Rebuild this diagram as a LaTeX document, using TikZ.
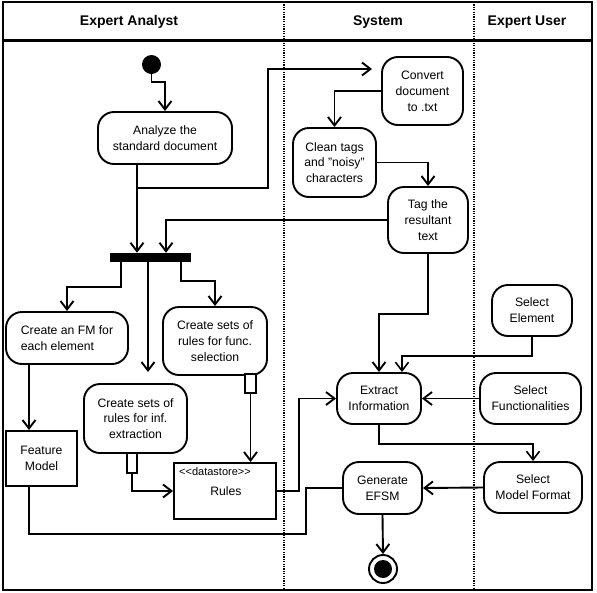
\documentclass[tikz,border=0pt]{standalone}
\usepackage{fontspec}
\setmainfont{Liberation Sans}
\usetikzlibrary{arrows.meta,calc}
\begin{document}
\begin{tikzpicture}[x=1pt,y=-1pt,
  every node/.style={font=\fontsize{12.2}{15.8}\selectfont},
  act/.style={draw, line width=1.9pt, rounded corners=16pt, align=center, inner sep=0pt, fill=white},
  obj/.style={draw, line width=1.9pt, align=center, inner sep=0pt, fill=white},
  pinbox/.style={draw, line width=1.6pt, inner sep=0pt, fill=white},
  arr/.style={line width=1.9pt, -{Straight Barb[length=8.5pt,width=13pt,line width=1.9pt]}},
  thinarr/.style={line width=1.5pt, -{Straight Barb[length=8.5pt,width=13pt,line width=1.6pt]}},
  ln/.style={line width=1.9pt},
  lane/.style={line width=1.6pt, dash pattern=on 1.2pt off 1.2pt},
  head/.style={font=\fontsize{14}{16}\selectfont\bfseries}
]
\useasboundingbox (0,0) rectangle (597,592);
% frame and lanes
\draw[line width=2.2pt] (3,2) rectangle (592,590);
\draw[line width=2.2pt] (3,40.5) -- (592,40.5);
\draw[lane] (284,2) -- (284,590);
\draw[lane] (474,2) -- (474,590);
\node[head] (h1) at (129,22) {Expert Analyst};
\node[head] (h2) at (378,22) {System};
\node[head] (h3) at (527,22) {Expert User};

% nodes
\node[circle, fill=black, inner sep=0pt, minimum size=19pt] (start) at (151.5,64.5) {};
\node[act, minimum width=134pt, minimum height=52pt] (analyze) at (165,138) {Analyze the\\standard document};
\node[act, minimum width=81pt, minimum height=68pt] (convert) at (422.5,91) {Convert\\document\\to .txt};
\node[act, minimum width=83pt, minimum height=69pt] (clean) at (334.5,162.5) {Clean tags\\and "noisy"\\characters};
\node[act, minimum width=80pt, minimum height=66pt] (tag) at (428,220) {Tag the\\resultant\\text};
\node[fill=black, inner sep=0pt, minimum width=81pt, minimum height=9pt] (bar) at (150.5,257.5) {};
\node[act, minimum width=122pt, minimum height=52pt, align=left] (fm) at (67,338) {Create an FM for\\each element};
\node[act, minimum width=104pt, minimum height=68pt] (func) at (215,341) {Create sets of\\rules for func.\\selection};
\node[pinbox, minimum width=11pt, minimum height=19pt] (funcpin) at (250.5,383.5) {};
\node[act, minimum width=103pt, minimum height=69pt] (inf) at (135.5,418.5) {Create sets of\\rules for inf.\\extraction};
\node[pinbox, minimum width=10pt, minimum height=20pt] (infpin) at (132,463) {};
\node[obj, minimum width=102pt, minimum height=56pt] (rules) at (225,491) {};
\node[anchor=west, font=\fontsize{11}{12}\selectfont, inner sep=0pt] (dslabel) at (179,472) {<{}<datastore>{}>};
\node[inner sep=0pt] (ruleslabel) at (226,491) {Rules};
\node[obj, minimum width=71pt, minimum height=55pt] (featmodel) at (41.5,458.5) {Feature\\Model};
\node[act, minimum width=84pt, minimum height=51pt] (extract) at (379,398.5) {Extract\\Information};
\node[act, minimum width=79pt, minimum height=52pt] (generate) at (382.5,488) {Generate\\EFSM};
\node[circle, draw, line width=1.9pt, fill=white, inner sep=0pt, minimum size=28pt] (end) at (383,569) {};
\node[circle, fill=black, inner sep=0pt, minimum size=18pt] (endin) at (383,569) {};
\node[act, minimum width=80pt, minimum height=51pt] (selel) at (532,310.5) {Select\\Element};
\node[act, minimum width=101pt, minimum height=51pt] (selfun) at (530.5,398.5) {Select\\Functionalities};
\node[act, minimum width=98pt, minimum height=51pt] (selmf) at (533,487.5) {Select\\Model Format};

% connectors
\coordinate (j1) at (137,188);
\coordinate (j2) at (306,534);
\draw[arr] (start.south) -- ++(0,8) -| (analyze.north);
\draw[arr] ([xshift=-28pt]analyze.south) -- ([xshift=-13.5pt]bar.north);
\draw[arr] (j1) -| (268,69) -- ([shift={(-9pt,22pt)}]convert.west);
\draw[arr] (convert.west) -| (clean.north);
\draw[arr] (clean.east) -| (tag.north);
\draw[arr] (tag.west) -| ([xshift=15.5pt]bar.north);
\draw[arr] ([xshift=-29.5pt]bar.south) -- ++(0,25) -| (fm.north);
\draw[arr] ([xshift=-2.5pt]bar.south) -- ([shift={(12.5pt,11pt)}]inf.north);
\draw[arr] ([xshift=30.5pt]bar.south) -- ++(0,19) -| (func.north);
\draw[arr] ([xshift=-38pt]fm.south) -- ([xshift=-12.5pt]featmodel.north);
\draw[arr] (funcpin.south) -- (funcpin.south |- rules.north);
\draw[arr] (infpin.south) |- (rules.west);
\draw[ln] ([xshift=-12.5pt]featmodel.south) |- (j2) |- (generate.west);
\draw[arr] (rules.east) -- ++(22,0) |- (extract.west);
\draw[arr] (tag.south) -- ++(0,60) -| (extract.north);
\draw[thinarr] (selel.south) -- ++(0,19) -| ([xshift=23pt]extract.north);
\draw[arr] (selfun.west) -- (extract.east);
\draw[thinarr] (extract.south) -- ++(0,19) -| (selmf.north);
\draw[arr] (selmf.west) -- (generate.east);
\draw[arr] (generate.south) -- (end.north);
\end{tikzpicture}
\end{document}
